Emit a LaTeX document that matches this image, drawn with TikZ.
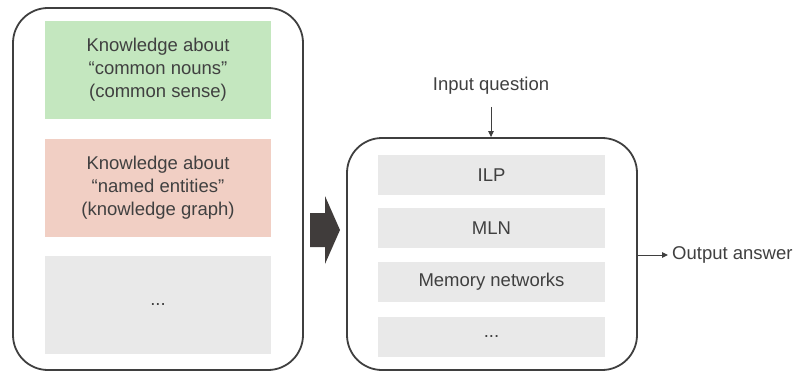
\documentclass[tikz,border=0pt]{standalone}
\usepackage{fontspec}
\setmainfont{Liberation Sans}
\usetikzlibrary{arrows.meta}
\definecolor{txt}{HTML}{404040}
\definecolor{frame}{HTML}{3F3F3F}
\definecolor{kgreen}{HTML}{C4E7BF}
\definecolor{kpink}{HTML}{F1CFC4}
\definecolor{kgray}{HTML}{E9E9E9}
\definecolor{bigarrow}{HTML}{403C3B}
\begin{document}
\begin{tikzpicture}[x=1pt,y=-1pt,
  every node/.style={font=\fontsize{18.5}{23}\selectfont, text=txt},
  outer/.style={draw=frame, line width=1.8pt, rounded corners=35pt, minimum width=290pt, inner sep=0pt},
  kbox/.style={minimum width=226pt, minimum height=98pt, align=center, inner sep=0pt},
  mbox/.style={fill=kgray, minimum width=227pt, minimum height=40pt, inner sep=0pt},
  conn/.style={draw=frame, line width=1pt, -{Triangle[length=6pt,width=5.5pt]}}]
\useasboundingbox (0,0) rectangle (794,374);
% left frame
\node[outer, minimum height=362pt] (left) at (158,189) {};
\node[kbox, fill=kgreen] (green) at (158,70) {Knowledge about\\“common nouns”\\(common sense)};
\node[kbox, fill=kpink] (pink) at (158,188) {Knowledge about\\“named entities”\\(knowledge graph)};
\node[kbox, fill=kgray] (kdots) at (158,305) {...};
% big arrow
\fill[bigarrow] (310,213) -- (325,213) -- (325,196) -- (340,230) -- (325,264) -- (325,247) -- (310,247) -- cycle;
% right frame
\node[outer, minimum height=232pt] (right) at (492,254) {};
\node[mbox] (ilp) at (491.5,175) {ILP};
\node[mbox] (mln) at (491.5,228) {MLN};
\node[mbox] (mem) at (491.5,282) {Memory networks};
\node[mbox] (mdots) at (491.5,337) {...};
% input / output
\node[inner sep=0pt] (inq) at (491,86) {Input question};
\draw[conn] (inq.south |- 0,107) -- (right.north -| inq.south);
\node[anchor=west, inner sep=0pt] (outa) at (672,255) {Output answer};
\draw[conn] (right.east |- outa.west) -- ([xshift=-4pt]outa.west);
\end{tikzpicture}
\end{document}
